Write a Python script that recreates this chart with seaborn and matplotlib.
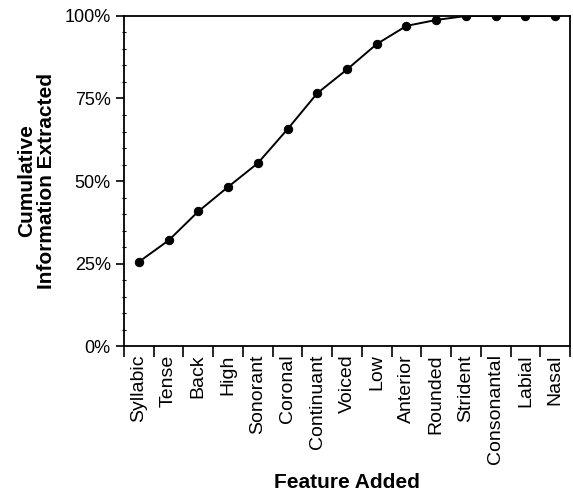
import numpy as np
import pandas as pd
import seaborn as sns
import matplotlib.pyplot as plt
from matplotlib.ticker import FixedLocator, PercentFormatter

features = ['Syllabic', 'Tense', 'Back', 'High', 'Sonorant', 'Coronal',
            'Continuant', 'Voiced', 'Low', 'Anterior', 'Rounded', 'Strident',
            'Consonantal', 'Labial', 'Nasal']
cumulative = [25.5, 32.0, 40.8, 48.2, 55.4, 65.7, 76.6, 83.8, 91.5, 97.0,
              98.8, 100, 100, 100, 100]

sns.set_style('ticks', {'text.color': 'black', 'axes.labelcolor': 'black',
                        'xtick.color': 'black', 'ytick.color': 'black',
                        'axes.edgecolor': 'black'})
plt.rcParams['font.family'] = ['Liberation Sans', 'DejaVu Sans']

df = pd.DataFrame({'feature': features, 'info': cumulative})

fig = plt.figure(figsize=(5.73, 4.92), dpi=100)
ax = fig.add_axes([0.2164, 0.2967, 0.7784, 0.6708])

sns.lineplot(data=df, x='feature', y='info', sort=False, marker='o',
             color='black', linewidth=1.4, markersize=6,
             markeredgecolor='black', ax=ax)

n = len(features)
ax.set_xlim(-0.5, n - 0.5)
ax.set_ylim(0, 100)

# category boundaries get the tick marks, labels sit in between
ax.xaxis.set_major_locator(FixedLocator(np.arange(-0.5, n, 1.0)))
ax.xaxis.set_minor_locator(FixedLocator(np.arange(n)))
ax.set_xticklabels([], minor=False)
ax.set_xticklabels(features, minor=True, rotation=90, fontsize=14)
ax.tick_params(axis='x', which='major', length=8, width=1.2, direction='out')
ax.tick_params(axis='x', which='minor', length=0, pad=6)

ax.set_yticks([0, 25, 50, 75, 100])
ax.yaxis.set_major_formatter(PercentFormatter(decimals=0))
ax.yaxis.set_minor_locator(FixedLocator(np.arange(0, 101, 5)))
ax.tick_params(axis='y', which='major', length=6, width=1.2, labelsize=13)
ax.tick_params(axis='y', which='minor', length=3, width=0.8, direction='inout')

for s in ax.spines.values():
    s.set_linewidth(1.3)
    s.set_color('black')

ax.set_xlabel('Feature Added', fontsize=15, fontweight='bold', labelpad=6)
ax.set_ylabel('Cumulative\nInformation Extracted', fontsize=15,
              fontweight='bold', labelpad=6, linespacing=1.05)

fig.savefig('out.png', dpi=100)
